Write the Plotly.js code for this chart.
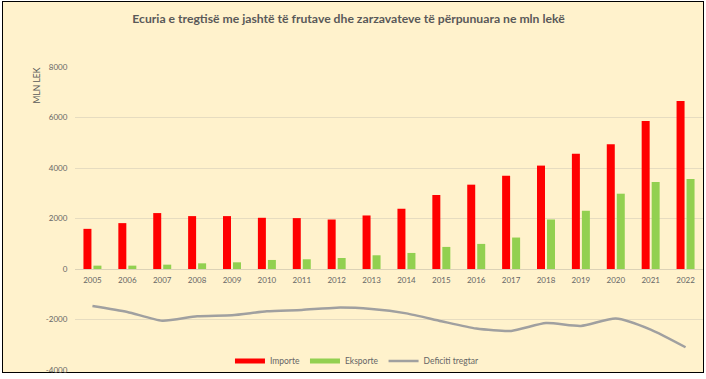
<!DOCTYPE html>
<html>
<head>
<meta charset="utf-8">
<script src="https://cdn.plot.ly/plotly-3.0.1.min.js"></script>
<style>
html,body{margin:0;padding:0;background:#ffffff;}
#frame{position:absolute;left:2px;top:1px;width:700px;height:370px;border:1.5px solid #000;background:#FFF2CC;}
#chart{position:absolute;left:0;top:0;width:706px;height:379px;}
</style>
</head>
<body>
<div id="frame"></div>
<div id="chart"></div>
<script>
const years = ['2005','2006','2007','2008','2009','2010','2011','2012','2013','2014','2015','2016','2017','2018','2019','2020','2021','2022'];
const importe = [1590,1817,2215,2095,2095,2028,2015,1960,2120,2386,2930,3340,3698,4095,4560,4944,5858,6653];
const eksporte = [133,133,172,225,265,358,385,437,543,636,875,994,1246,1961,2306,2982,3446,3566];
const deficiti = [-1465,-1700,-2050,-1870,-1830,-1678,-1622,-1530,-1585,-1758,-2068,-2360,-2452,-2140,-2254,-1962,-2400,-3100];
const yTicks = [-4000,-2000,0,2000,4000,6000,8000];
const seriesNames = ['Importe','Eksporte','Deficiti tregtar'];
const seriesColors = ['#FF0000','#92D050','#A0A0A0'];

const txt = '#666666';
const traces = [
  {type:'bar', name:seriesNames[0], x:years, y:importe, marker:{color:seriesColors[0]}, showlegend:false, legendgroup:'imp'},
  {type:'bar', name:seriesNames[1], x:years, y:eksporte, marker:{color:seriesColors[1]}, showlegend:false, legendgroup:'eks'},
  {type:'scatter', mode:'lines', name:seriesNames[2], x:years, y:deficiti,
   line:{color:seriesColors[2], width:2.5, shape:'spline', smoothing:0.6}, legendrank:3},
  // legend keys drawn as thick strokes like the reference swatches
  {type:'scatter', mode:'lines', name:seriesNames[0], x:[years[0]], y:[null], legendgroup:'imp',
   line:{color:seriesColors[0], width:5}, legendrank:1, hoverinfo:'skip'},
  {type:'scatter', mode:'lines', name:seriesNames[1], x:[years[0]], y:[null], legendgroup:'eks',
   line:{color:seriesColors[1], width:5}, legendrank:2, hoverinfo:'skip'}
];

const layout = {
  width:706, height:379,
  margin:{l:75, r:3, t:67, b:9, pad:0},
  paper_bgcolor:'rgba(0,0,0,0)',
  plot_bgcolor:'rgba(0,0,0,0)',
  font:{family:'Lato, sans-serif', color:txt, size:8},
  barmode:'group', bargap:0.427, bargroupgap:0.2,
  title:{text:'<b>Ecuria e tregtisë me jashtë të frutave dhe zarzavateve të përpunuara ne mln lekë</b>',
         font:{family:'Lato, sans-serif', size:12.2, color:'#595959'},
         x:0.4936, xanchor:'center', y:0.95, yanchor:'middle', xref:'container', yref:'container'},
  xaxis:{type:'category', anchor:'free', position:1/3, showgrid:false, zeroline:false,
         showline:false, ticks:'outside', ticklen:3, tickcolor:'rgba(0,0,0,0)',
         tickfont:{size:8, color:txt}, fixedrange:true},
  yaxis:{range:[-4000,8000], tickvals:yTicks, ticktext:yTicks.map(String),
         showgrid:true, gridcolor:'#E6DCC0', gridwidth:1,
         zeroline:true, zerolinecolor:'#DCD2B6', zerolinewidth:1,
         showline:false, ticks:'outside', ticklen:5, tickcolor:'rgba(0,0,0,0)',
         tickfont:{size:8, color:txt}, fixedrange:true},
  showlegend:true,
  legend:{orientation:'h', x:0.449, xanchor:'center', y:0.03, yanchor:'middle',
          bgcolor:'rgba(0,0,0,0)', font:{size:8.5, color:txt}, itemwidth:30,
          tracegroupgap:0, traceorder:'normal'},
  annotations:[
    {text:'MLN LEK', xref:'paper', yref:'paper', x:-0.06, xanchor:'center',
     y:0.94, yanchor:'middle', textangle:-90, showarrow:false,
     font:{family:'Lato, sans-serif', size:8.5, color:'#595959'}}
  ]
};
Plotly.newPlot('chart', traces, layout, {displayModeBar:false, staticPlot:true});
</script>
</body>
</html>
